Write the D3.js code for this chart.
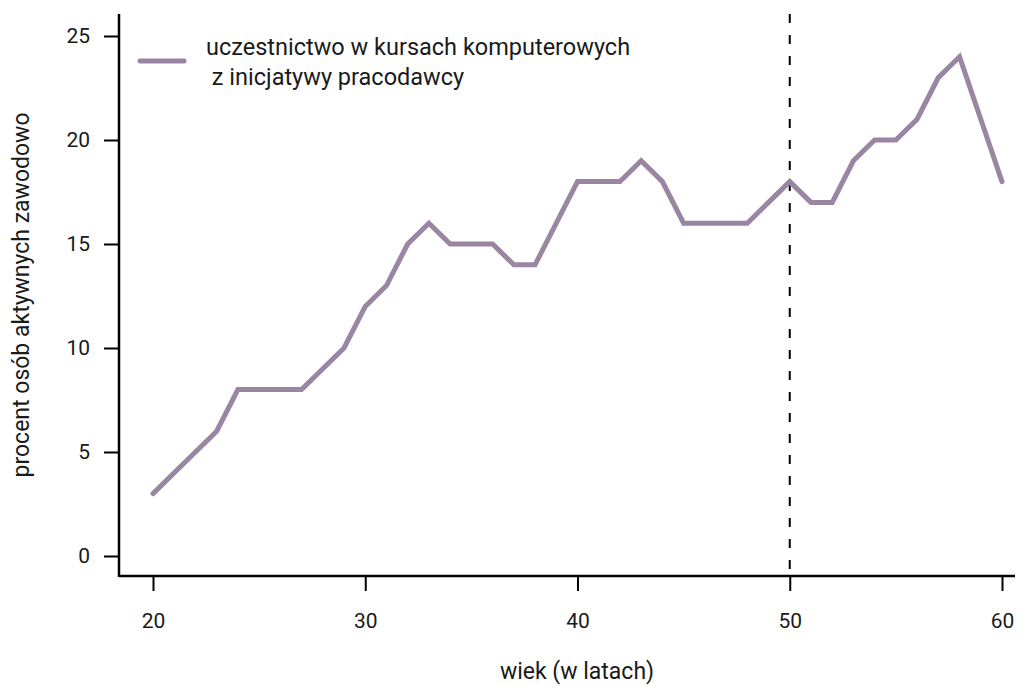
<!DOCTYPE html>
<html><head><meta charset="utf-8">
<script src="https://cdn.jsdelivr.net/npm/d3@7"></script>
<style>body{margin:0;background:#fff}text{font-family:Roboto,"DejaVu Sans",sans-serif;fill:#1a1a1a}</style>
</head><body><svg id="c" width="1027" height="686"></svg>
<script>
const ages = [20,21,22,23,24,25,26,27,28,29,30,31,32,33,34,35,36,37,38,39,40,41,42,43,44,45,46,47,48,49,50,51,52,53,54,55,56,57,58,59,60];
const values = [3,4,5,6,8,8,8,8,9,10,12,13,15,16,15,15,15,14,14,16,18,18,18,19,18,16,16,16,16,17,18,17,17,19,20,20,21,23,24,21,18];
const xTicks = [20,30,40,50,60];
const yTicks = [0,5,10,15,20,25];
const seriesName = ["uczestnictwo w kursach komputerowych", "\u00a0z inicjatywy pracodawcy"];
const xTitle = "wiek (w latach)";
const yTitle = "procent osób aktywnych zawodowo";
const markerAge = 50;
const lineColor = "#9a86a3";

const svg = d3.select("#c");
const x = d3.scaleLinear().domain([20,60]).range([153,1002]);
const y = d3.scaleLinear().domain([0,25]).range([556,36]);

const xAxis = svg.append("g").attr("transform","translate(0,576)")
  .call(d3.axisBottom(x).tickValues(xTicks).tickSize(15).tickPadding(22));
xAxis.select(".domain").remove();
svg.append("line").attr("x1",119).attr("x2",1015).attr("y1",576).attr("y2",576).attr("stroke","#000").attr("stroke-width",2.5);
const yAxis = svg.append("g").attr("transform","translate(119,0)")
  .call(d3.axisLeft(y).tickValues(yTicks).tickSize(15).tickPadding(14));
yAxis.select(".domain").remove();
svg.append("line").attr("x1",119).attr("x2",119).attr("y1",14).attr("y2",577).attr("stroke","#000").attr("stroke-width",2.5);
svg.selectAll(".tick line").attr("stroke","#000").attr("stroke-width",2);
svg.selectAll(".tick text").style("font-size","21px").attr("fill","#1a1a1a");

svg.append("line").attr("x1",x(markerAge)).attr("x2",x(markerAge)).attr("y1",14).attr("y2",570)
  .attr("stroke","#000").attr("stroke-width",2).attr("stroke-dasharray","9,12");

const line = d3.line().x((d,i)=>x(ages[i])).y(d=>y(d));
svg.append("path").datum(values).attr("d",line).attr("fill","none")
  .attr("stroke",lineColor).attr("stroke-width",5).attr("stroke-linejoin","miter").attr("stroke-linecap","round");

svg.append("line").attr("x1",140).attr("x2",184).attr("y1",61).attr("y2",61)
  .attr("stroke",lineColor).attr("stroke-width",5).attr("stroke-linecap","round");
svg.append("text").attr("x",206).attr("y",55).style("font-size","23.5px").text(seriesName[0]);
svg.append("text").attr("x",206).attr("y",85).style("font-size","23.5px").text(seriesName[1]);

svg.append("text").attr("x",577).attr("y",679).attr("text-anchor","middle").style("font-size","23px").text(xTitle);
svg.append("text").attr("transform","translate(29,295) rotate(-90)").attr("text-anchor","middle").style("font-size","23px").text(yTitle);
</script></body></html>
